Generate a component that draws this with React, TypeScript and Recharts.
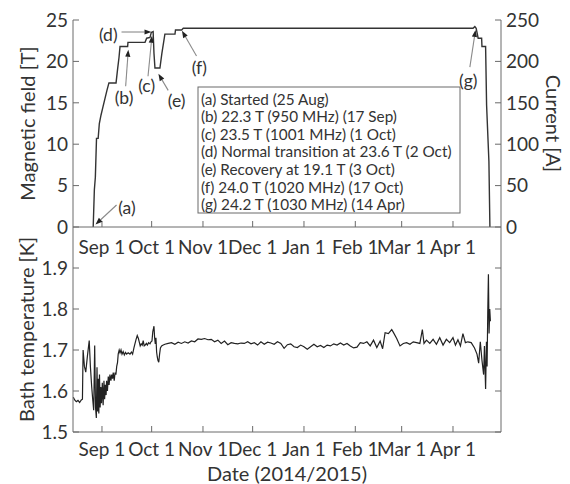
import { Line, LineChart, XAxis, YAxis } from 'recharts'

// days counted from 1 Sep 2014
const fieldDays = [
  -5.3, -4.6, -4.0, -3.3, -2.3, -1.6, -0.6, 0.6, 1.8, 3.0, 4.2, 8.5, 9.4, 10.3, 10.9, 15.5, 15.7, 26.0, 27.0, 29.0,
  29.8, 30.9, 31.4, 32.0, 35.0, 36.2, 38.0, 44.1, 44.4, 48.1, 49.1, 224.1, 225.2, 226.0, 227.2, 229.3, 229.5, 231.7,
  232.3, 233.7, 234.3,
]
const fieldTesla = [
  0, 4.5, 6, 10.7, 10.7, 12.5, 13.5, 14.5, 15.5, 16.5, 17.4, 17.4, 19.0, 20.5, 21.8, 21.8, 22.3, 22.3, 22.8, 22.9,
  23.5, 23.6, 21.0, 19.2, 19.2, 21.0, 23.3, 23.3, 23.8, 23.8, 24.0, 24.0, 24.2, 24.0, 22.8, 22.8, 21.8, 21.8, 14.7,
  7.9, 0,
]

const tempDays = [
  -17.3, -16.5, -15.5, -14.5, -13.5, -12.5, -11.8, -11.4, -10.6, -9.8, -8.8, -7.7, -7.0, -6.2, -5.6, -5.0, -4.4, -3.9,
  -3.4, -3.0, -2.6, -2.2, -1.9, -1.5, -1.1, -0.7, -0.3, 0.2, 0.7, 1.2, 1.6, 2.0, 2.5, 2.8, 3.3, 3.8, 4.3, 4.8, 5.4,
  5.9, 6.4, 6.8, 7.4, 7.9, 8.4, 8.9, 9.4, 9.8, 10.4, 10.9, 11.5, 12.1, 12.8, 13.5, 14.2, 14.9, 15.8, 16.9, 17.8, 18.5,
  19.3, 19.9, 20.6, 21.3, 22.0, 22.5, 23.1, 23.7, 24.3, 24.9, 25.5, 26.1, 26.8, 27.4, 28.2, 29.0, 29.6, 30.2, 30.7,
  31.0, 31.4, 31.8, 32.2, 32.6, 33.0, 33.4, 33.8, 34.3, 34.8, 35.3, 36.0, 37.0, 38.0, 40, 42, 44, 46, 48, 50, 52, 54,
  56, 58, 60, 62, 64, 66, 68, 70, 72, 74, 76, 78, 80, 82, 84, 86, 88, 90, 92, 94, 96, 98, 100, 102, 104, 106, 108, 110,
  112, 114, 116, 118, 120, 122, 124, 126, 128, 130, 132, 134, 136, 138, 140, 142, 144, 146, 148, 150, 152, 154, 156,
  158, 160, 162, 164, 166, 168, 169.5, 171, 173, 175, 176, 178, 180, 182, 184, 186, 188, 190, 192, 193.5, 194.5, 196,
  198, 200, 202, 204, 206, 208, 210, 212, 213.5, 215, 216.5, 218, 219.5, 221, 223, 225, 226.5, 227.5, 228.5, 229.5,
  230.5, 231, 231.7, 232.2, 232.6, 233, 233.4, 233.8, 234.2, 234.6,
]
const tempKelvin = [
  1.585, 1.578, 1.574, 1.577, 1.572, 1.578, 1.58, 1.7, 1.66, 1.646, 1.685, 1.723, 1.66, 1.61, 1.58, 1.553, 1.711, 1.56,
  1.534, 1.658, 1.55, 1.63, 1.545, 1.64, 1.56, 1.61, 1.57, 1.62, 1.565, 1.625, 1.58, 1.615, 1.59, 1.625, 1.6, 1.635,
  1.615, 1.64, 1.625, 1.64, 1.63, 1.645, 1.625, 1.645, 1.64, 1.66, 1.67, 1.69, 1.7, 1.693, 1.7, 1.69, 1.696, 1.688,
  1.694, 1.69, 1.693, 1.69, 1.695, 1.69, 1.705, 1.715, 1.726, 1.735, 1.728, 1.72, 1.71, 1.715, 1.712, 1.723, 1.71,
  1.712, 1.716, 1.712, 1.718, 1.715, 1.72, 1.722, 1.745, 1.75, 1.758, 1.73, 1.715, 1.73, 1.695, 1.683, 1.675, 1.67,
  1.69, 1.705, 1.71, 1.712, 1.714, 1.716, 1.718, 1.714, 1.719, 1.716, 1.72, 1.717, 1.722, 1.72, 1.727, 1.726, 1.728,
  1.725, 1.726, 1.72, 1.724, 1.716, 1.722, 1.713, 1.718, 1.716, 1.715, 1.717, 1.716, 1.72, 1.715, 1.718, 1.712, 1.72,
  1.714, 1.719, 1.717, 1.714, 1.72, 1.716, 1.704, 1.713, 1.715, 1.708, 1.706, 1.712, 1.708, 1.702, 1.708, 1.714,
  1.708, 1.711, 1.706, 1.712, 1.71, 1.715, 1.712, 1.717, 1.712, 1.716, 1.71, 1.705, 1.707, 1.718, 1.716, 1.72, 1.71,
  1.724, 1.706, 1.722, 1.703, 1.742, 1.74, 1.75, 1.743, 1.728, 1.71, 1.716, 1.718, 1.714, 1.72, 1.718, 1.716, 1.75,
  1.716, 1.724, 1.716, 1.726, 1.714, 1.73, 1.712, 1.726, 1.718, 1.73, 1.712, 1.725, 1.71, 1.74, 1.718, 1.72, 1.718,
  1.705, 1.69, 1.668, 1.72, 1.675, 1.64, 1.71, 1.605, 1.72, 1.66, 1.79, 1.885, 1.74, 1.8, 1.77,
]

const monthTicks = [0, 30, 61, 91, 122, 153, 181, 212]
const monthLabels = ['Sep 1', 'Oct 1', 'Nov 1', 'Dec 1', 'Jan 1', 'Feb 1', 'Mar 1', 'Apr 1']
const fieldTicks = [0, 5, 10, 15, 20, 25]
const currentTicks = [0, 50, 100, 150, 200, 250]
const tempTicks = [1.5, 1.6, 1.7, 1.8, 1.9]

const legendLines = [
  '(a) Started (25 Aug)',
  '(b) 22.3 T (950 MHz) (17 Sep)',
  '(c) 23.5 T (1001 MHz) (1 Oct)',
  '(d) Normal transition at 23.6 T (2 Oct)',
  '(e) Recovery at 19.1 T (3 Oct)',
  '(f) 24.0 T (1020 MHz) (17 Oct)',
  '(g) 24.2 T (1030 MHz) (14 Apr)',
]

// label position, arrow tail, arrow tip — all in (day, tesla)
const notes = [
  { text: '(a)', at: [15.1, 2.3], from: [8.8, 2.66], to: [-3.9, 0.3] },
  { text: '(b)', at: [13.3, 15.7], from: [14.3, 17.0], to: [15.9, 21.4] },
  { text: '(c)', at: [27.0, 17.1], from: [27.8, 18.2], to: [30.2, 23.1] },
  { text: '(d)', at: [3.8, 23.3], from: [11.8, 23.55], to: [29.9, 23.55] },
  { text: '(e)', at: [45.1, 15.3], from: [40.0, 16.5], to: [34.1, 18.5] },
  { text: '(f)', at: [58.8, 19.3], from: [57.1, 20.65], to: [48.3, 23.7] },
  { text: '(g)', at: [221.2, 17.75], from: [222.2, 19.3], to: [225.6, 23.8] },
]

const fieldData = fieldDays.map((day, i) => ({ day, field: fieldTesla[i] }))
const tempData = tempDays.map((day, i) => ({ day, temp: tempKelvin[i] }))

const W = 570
const H = 484
const LEFT = 73
const RIGHT = 501
const TOP = 20
const MID = 227
const BOTTOM = 432
const X_DOMAIN: [number, number] = [-17.5, 241]
const FONT = 'Lato, "Open Sans", sans-serif'
const INK = '#333'
const FRAME = '#6a6a6a'

const sx = (d: number) => LEFT + ((d - X_DOMAIN[0]) / (X_DOMAIN[1] - X_DOMAIN[0])) * (RIGHT - LEFT)
const sy = (v: number) => MID - (v / 25) * (MID - TOP)

const tickStyle = { fontSize: 19, fill: INK, fontFamily: FONT }
const monthFmt = (v: number) => monthLabels[monthTicks.indexOf(v)] ?? ''
const blank = () => ''

function Arrow({ from, to }: { from: number[]; to: number[] }) {
  const x1 = sx(from[0])
  const y1 = sy(from[1])
  const x2 = sx(to[0])
  const y2 = sy(to[1])
  const a = Math.atan2(y2 - y1, x2 - x1)
  const len = 7
  const half = 2.6
  const bx = x2 - len * Math.cos(a)
  const by = y2 - len * Math.sin(a)
  const pts = [
    `${x2},${y2}`,
    `${bx + half * Math.sin(a)},${by - half * Math.cos(a)}`,
    `${bx - half * Math.sin(a)},${by + half * Math.cos(a)}`,
  ].join(' ')
  return (
    <g>
      <line x1={x1} y1={y1} x2={bx} y2={by} stroke="#8a8a8a" strokeWidth={1.1} />
      <polygon points={pts} fill="#222" />
    </g>
  )
}

const titleProps = {
  textAnchor: 'middle' as const,
  dominantBaseline: 'central' as const,
  fontSize: 20,
  fill: INK,
  fontFamily: FONT,
}

export default function App() {
  return (
    <div style={{ position: 'absolute', left: 0, top: 0, width: W, height: H, background: '#fff', fontFamily: FONT }}>
      <div style={{ position: 'absolute', left: 0, top: 0 }}>
        <LineChart width={W} height={H} data={tempData} margin={{ top: MID, right: 0, bottom: 0, left: 0 }}>
          <XAxis
            xAxisId="b"
            dataKey="day"
            type="number"
            domain={X_DOMAIN}
            ticks={monthTicks}
            interval={0}
            tickFormatter={monthFmt}
            height={H - BOTTOM}
            tickSize={-6}
            tickMargin={17}
            stroke={FRAME}
            tick={tickStyle}
          />
          <XAxis
            xAxisId="t"
            orientation="top"
            dataKey="day"
            type="number"
            domain={X_DOMAIN}
            ticks={monthTicks}
            interval={0}
            tickFormatter={blank}
            height={0}
            tickSize={-4}
            stroke={FRAME}
          />
          <YAxis
            yAxisId="l"
            domain={[1.5, 2.0]}
            ticks={tempTicks}
            interval={0}
            width={LEFT}
            tickSize={-6}
            tickMargin={11}
            tickFormatter={(v: number) => v.toFixed(1)}
            stroke={FRAME}
            tick={tickStyle}
          />
          <YAxis
            yAxisId="r"
            orientation="right"
            domain={[1.5, 2.0]}
            ticks={tempTicks}
            interval={0}
            width={W - RIGHT}
            tickSize={-6}
            tickFormatter={blank}
            stroke={FRAME}
          />
          <Line
            xAxisId="t"
            yAxisId="r"
            dataKey="temp"
            stroke="none"
            dot={false}
            activeDot={false}
            isAnimationActive={false}
          />
          <Line
            xAxisId="b"
            yAxisId="l"
            dataKey="temp"
            type="linear"
            stroke="#222"
            strokeWidth={1.2}
            dot={false}
            isAnimationActive={false}
          />
        </LineChart>
      </div>
      <div style={{ position: 'absolute', left: 0, top: 0 }}>
        <LineChart width={W} height={H} data={fieldData} margin={{ top: TOP, right: 0, bottom: 0, left: 0 }}>
          <XAxis
            xAxisId="b"
            dataKey="day"
            type="number"
            domain={X_DOMAIN}
            ticks={monthTicks}
            interval={0}
            tickFormatter={monthFmt}
            height={H - MID}
            tickSize={-6}
            tickMargin={20}
            stroke={FRAME}
            tick={tickStyle}
          />
          <XAxis
            xAxisId="t"
            orientation="top"
            dataKey="day"
            type="number"
            domain={X_DOMAIN}
            ticks={monthTicks}
            interval={0}
            tickFormatter={blank}
            height={0}
            tickSize={-6}
            stroke={FRAME}
          />
          <YAxis
            yAxisId="T"
            domain={[0, 25]}
            ticks={fieldTicks}
            interval={0}
            width={LEFT}
            tickSize={-6}
            tickMargin={11}
            stroke={FRAME}
            tick={tickStyle}
          />
          <YAxis
            yAxisId="A"
            orientation="right"
            domain={[0, 250]}
            ticks={currentTicks}
            interval={0}
            width={W - RIGHT}
            tickSize={-6}
            tickMargin={11}
            stroke={FRAME}
            tick={tickStyle}
          />
          <Line
            xAxisId="t"
            yAxisId="A"
            dataKey="field"
            stroke="none"
            dot={false}
            activeDot={false}
            isAnimationActive={false}
          />
          <Line
            xAxisId="b"
            yAxisId="T"
            dataKey="field"
            type="linear"
            stroke="#333"
            strokeWidth={1.4}
            dot={false}
            isAnimationActive={false}
          />
        </LineChart>
      </div>
      <svg width={W} height={H} style={{ position: 'absolute', left: 0, top: 0, pointerEvents: 'none' }}>
        {notes.map((n) => (
          <g key={n.text}>
            <Arrow from={n.from} to={n.to} />
            <text
              x={sx(n.at[0])}
              y={sy(n.at[1])}
              textAnchor="middle"
              dominantBaseline="central"
              fontSize={17.5}
              fill={INK}
              fontFamily={FONT}
            >
              {n.text}
            </text>
          </g>
        ))}
        <rect x={198} y={87} width={262} height={126} fill="#fff" stroke={FRAME} strokeWidth={1} />
        {legendLines.map((t, i) => (
          <text key={t} x={201} y={104.5 + i * 17.6} fontSize={15.3} fill={INK} fontFamily={FONT}>
            {t}
          </text>
        ))}
        <text transform={`translate(27, ${(TOP + MID) / 2}) rotate(-90)`} {...titleProps}>
          Magnetic field [T]
        </text>
        <text transform={`translate(554, ${(TOP + MID) / 2}) rotate(90)`} {...titleProps}>
          Current [A]
        </text>
        <text transform={`translate(26, ${(MID + BOTTOM) / 2}) rotate(-90)`} {...titleProps}>
          Bath temperature [K]
        </text>
        <text x={(LEFT + RIGHT) / 2} y={473} {...titleProps}>
          Date (2014/2015)
        </text>
      </svg>
    </div>
  )
}
